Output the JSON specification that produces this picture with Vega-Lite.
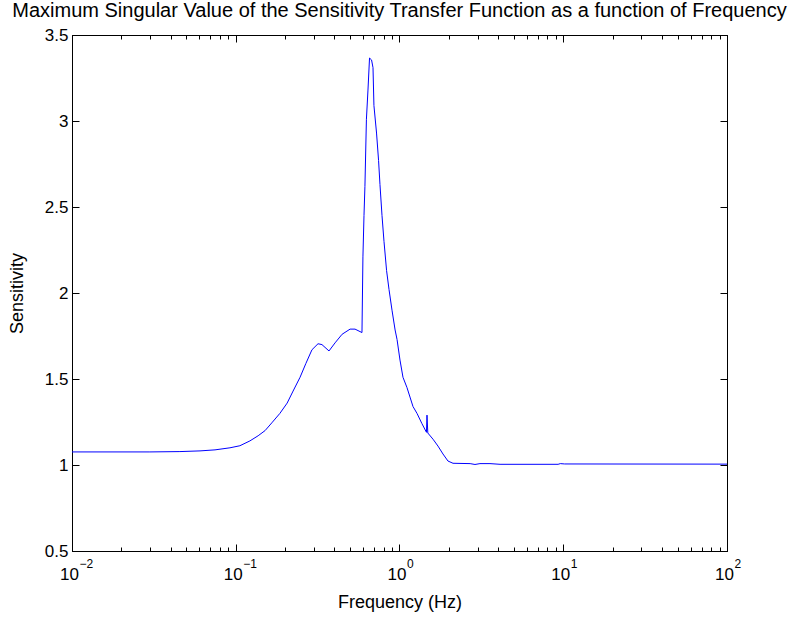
{
  "$schema": "https://vega.github.io/schema/vega-lite/v6.json",
  "width": 655,
  "height": 516,
  "autosize": "none",
  "padding": {"left": 72, "top": 35, "right": 70, "bottom": 67},
  "background": "white",
  "config": {
    "font": "Liberation Sans",
    "view": {"stroke": "black", "strokeWidth": 1},
    "axis": {"grid": false, "domainColor": "black", "tickColor": "black", "labelColor": "black", "titleColor": "black", "labelFont": "Liberation Sans", "titleFont": "Liberation Sans", "labelFontSize": 17, "titleFontSize": 18, "titleFontWeight": "normal"}
  },
  "title": {"text": "Maximum Singular Value of the Sensitivity Transfer Function as a function of Frequency", "fontSize": 20, "fontWeight": "normal", "font": "Liberation Sans", "color": "black", "offset": 5, "anchor": "middle"},
  "data": {"values": [
    {"f": 0.01, "s": 1.076},
    {"f": 0.0299, "s": 1.076},
    {"f": 0.0456, "s": 1.078},
    {"f": 0.0605, "s": 1.082},
    {"f": 0.0747, "s": 1.088},
    {"f": 0.0922, "s": 1.100},
    {"f": 0.106, "s": 1.112},
    {"f": 0.122, "s": 1.14},
    {"f": 0.137, "s": 1.17},
    {"f": 0.151, "s": 1.20},
    {"f": 0.166, "s": 1.245},
    {"f": 0.186, "s": 1.30},
    {"f": 0.206, "s": 1.36},
    {"f": 0.224, "s": 1.43},
    {"f": 0.247, "s": 1.51},
    {"f": 0.268, "s": 1.59},
    {"f": 0.292, "s": 1.67},
    {"f": 0.318, "s": 1.705},
    {"f": 0.336, "s": 1.70},
    {"f": 0.371, "s": 1.663},
    {"f": 0.404, "s": 1.71},
    {"f": 0.446, "s": 1.76},
    {"f": 0.499, "s": 1.79},
    {"f": 0.535, "s": 1.79},
    {"f": 0.590, "s": 1.77},
    {"f": 0.598, "s": 2.21},
    {"f": 0.607, "s": 2.45},
    {"f": 0.615, "s": 2.62},
    {"f": 0.628, "s": 3.01},
    {"f": 0.642, "s": 3.18},
    {"f": 0.656, "s": 3.366},
    {"f": 0.675, "s": 3.355},
    {"f": 0.689, "s": 3.31},
    {"f": 0.698, "s": 3.09},
    {"f": 0.724, "s": 2.93},
    {"f": 0.745, "s": 2.77},
    {"f": 0.760, "s": 2.63},
    {"f": 0.782, "s": 2.45},
    {"f": 0.804, "s": 2.30},
    {"f": 0.834, "s": 2.13},
    {"f": 0.863, "s": 2.02},
    {"f": 0.900, "s": 1.90},
    {"f": 0.940, "s": 1.785},
    {"f": 0.966, "s": 1.73},
    {"f": 1.007, "s": 1.61},
    {"f": 1.050, "s": 1.51},
    {"f": 1.111, "s": 1.45},
    {"f": 1.159, "s": 1.395},
    {"f": 1.209, "s": 1.34},
    {"f": 1.279, "s": 1.30},
    {"f": 1.372, "s": 1.24},
    {"f": 1.461, "s": 1.19},
    {"f": 1.472, "s": 1.29},
    {"f": 1.489, "s": 1.186},
    {"f": 1.602, "s": 1.15},
    {"f": 1.718, "s": 1.11},
    {"f": 1.843, "s": 1.064},
    {"f": 1.977, "s": 1.023},
    {"f": 2.122, "s": 1.01},
    {"f": 2.70, "s": 1.008},
    {"f": 2.89, "s": 1.003},
    {"f": 3.1, "s": 1.008},
    {"f": 3.57, "s": 1.008},
    {"f": 4.11, "s": 1.004},
    {"f": 9.3, "s": 1.004},
    {"f": 9.6, "s": 1.008},
    {"f": 10.2, "s": 1.006},
    {"f": 100, "s": 1.005}
  ]},
  "resolve": {"axis": {"x": "independent", "y": "independent"}},
  "layer": [
    {
      "mark": {"type": "line", "color": "#0000ff", "strokeWidth": 1, "interpolate": "linear", "clip": true},
      "encoding": {
        "x": {"field": "f", "type": "quantitative", "scale": {"type": "log", "domain": [0.01, 100], "nice": false},
              "axis": {"orient": "bottom", "title": "Frequency (Hz)", "titlePadding": 11, "values": [0.01, 0.1, 1, 10, 100], "labelExpr": "'10'", "tickSize": -7, "labelPadding": 22, "labelOffset": -3, "labelFlush": false, "labelOverlap": false, "domainWidth": 1}},
        "y": {"field": "s", "type": "quantitative", "scale": {"domain": [0.5, 3.5], "nice": false, "zero": false},
              "axis": {"orient": "left", "title": "Sensitivity", "titlePadding": 18, "values": [0.5, 1, 1.5, 2, 2.5, 3, 3.5], "labelExpr": "format(datum.value, '~g')", "tickSize": -7, "labelPadding": 11, "labelFlush": false, "labelOverlap": false, "domainWidth": 1}}
      }
    },
    {
      "mark": {"type": "line", "strokeOpacity": 0},
      "encoding": {
        "x": {"field": "f", "type": "quantitative", "scale": {"type": "log", "domain": [0.01, 100], "nice": false},
              "axis": {"orient": "bottom", "title": null, "values": [0.01, 0.1, 1, 10, 100], "labelExpr": "format(round(log(datum.value)/LN10), 'd')", "ticks": false, "domain": false, "labelPadding": 7, "labelAlign": "left", "labelOffset": 7, "labelFontSize": 12, "labelFlush": false, "labelOverlap": false}},
        "y": {"field": "s", "type": "quantitative", "scale": {"domain": [0.5, 3.5], "nice": false, "zero": false},
              "axis": {"orient": "right", "title": null, "values": [0.5, 1, 1.5, 2, 2.5, 3, 3.5], "labels": false, "tickSize": -7, "domainWidth": 1}}
      }
    },
    {
      "mark": {"type": "line", "strokeOpacity": 0},
      "encoding": {
        "x": {"field": "f", "type": "quantitative", "scale": {"type": "log", "domain": [0.01, 100], "nice": false},
              "axis": {"orient": "bottom", "title": null, "values": [0.02, 0.03, 0.04, 0.05, 0.06, 0.07, 0.08, 0.09, 0.2, 0.3, 0.4, 0.5, 0.6, 0.7, 0.8, 0.9, 2, 3, 4, 5, 6, 7, 8, 9, 20, 30, 40, 50, 60, 70, 80, 90], "labels": false, "domain": false, "tickSize": -4}},
        "y": {"field": "s", "type": "quantitative", "scale": {"domain": [0.5, 3.5], "nice": false, "zero": false}, "axis": null}
      }
    },
    {
      "mark": {"type": "line", "strokeOpacity": 0},
      "encoding": {
        "x": {"field": "f", "type": "quantitative", "scale": {"type": "log", "domain": [0.01, 100], "nice": false},
              "axis": {"orient": "top", "title": null, "values": [0.01, 0.1, 1, 10, 100], "labels": false, "tickSize": -7, "domainWidth": 1}},
        "y": {"field": "s", "type": "quantitative", "scale": {"domain": [0.5, 3.5], "nice": false, "zero": false}, "axis": null}
      }
    },
    {
      "mark": {"type": "line", "strokeOpacity": 0},
      "encoding": {
        "x": {"field": "f", "type": "quantitative", "scale": {"type": "log", "domain": [0.01, 100], "nice": false},
              "axis": {"orient": "top", "title": null, "values": [0.02, 0.03, 0.04, 0.05, 0.06, 0.07, 0.08, 0.09, 0.2, 0.3, 0.4, 0.5, 0.6, 0.7, 0.8, 0.9, 2, 3, 4, 5, 6, 7, 8, 9, 20, 30, 40, 50, 60, 70, 80, 90], "labels": false, "domain": false, "tickSize": -4}},
        "y": {"field": "s", "type": "quantitative", "scale": {"domain": [0.5, 3.5], "nice": false, "zero": false}, "axis": null}
      }
    }
  ]
}
